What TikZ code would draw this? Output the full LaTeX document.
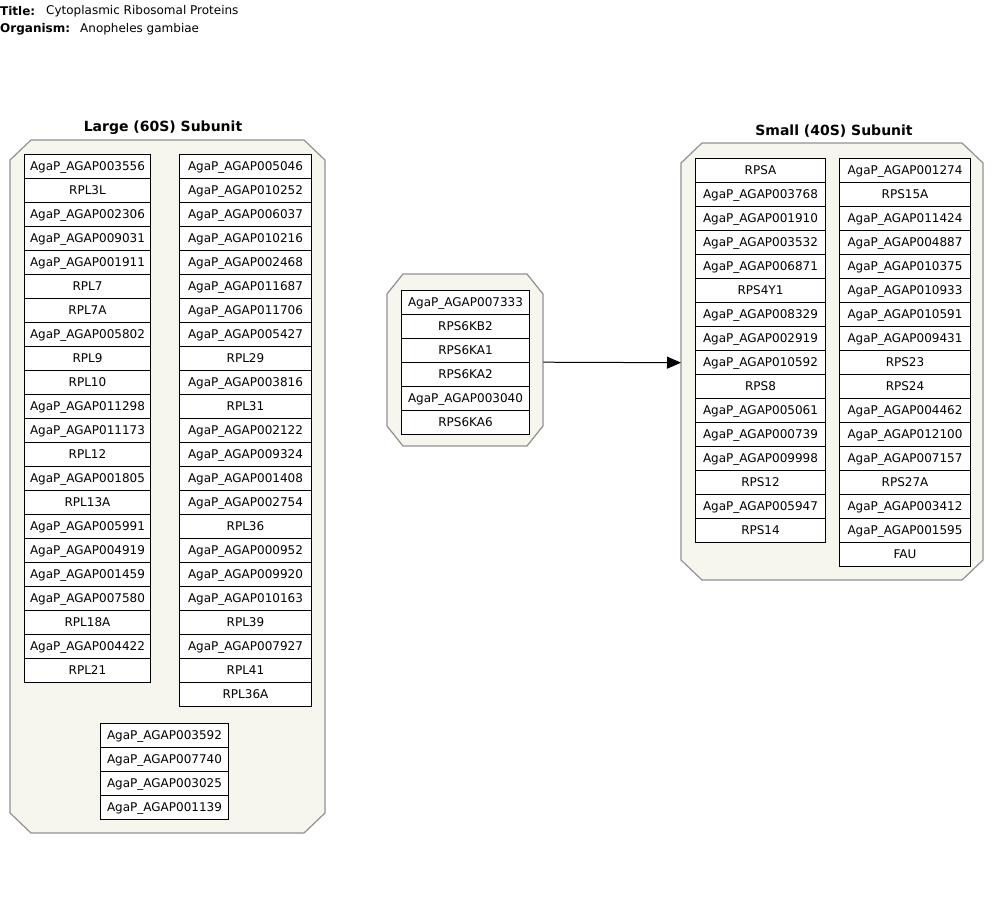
\documentclass[tikz,border=0pt]{standalone}
\usepackage{fontspec}
\setmainfont{DejaVu Sans}
\usetikzlibrary{arrows.meta}

\definecolor{groupfill}{RGB}{246,246,238}
\definecolor{groupline}{RGB}{145,145,145}

% gene product label with AgaP_AGAP prefix
\newcommand\ag[1]{AgaP\_AGAP#1}

% octagonal group outline: x1, y1, x2, y2, chamfer dx, chamfer dy
\newcommand\groupoct[6]{%
  \draw[groupbox] ({#1+#5},#2) -- ({#3-#5},#2) -- (#3,{#2+#6}) -- (#3,{#4-#6})
    -- ({#3-#5},#4) -- ({#1+#5},#4) -- (#1,{#4-#6}) -- (#1,{#2+#6}) -- cycle;}

% stacked column of gene boxes: name prefix, left x, top y, width, labels
\newcommand\genecolumn[5]{%
  \foreach \g [count=\i] in {#5} {
    \node[genebox=#4] (#1\i) at (#2,{#3+(\i-1)*24}) {\g};
  }}

\begin{document}
\begin{tikzpicture}[x=1pt,y=-1pt,
  genebox/.style={draw=black, fill=white, line width=1pt, minimum width=#1,
    minimum height=24pt, inner sep=0pt, anchor=north west,
    text height=8.8pt, text depth=0pt,
    font=\fontsize{12}{14}\selectfont},
  groupbox/.style={draw=groupline, fill=groupfill, line width=1.2pt},
  grouplabel/.style={anchor=base, inner sep=0pt, font=\fontsize{14}{16}\selectfont\bfseries},
  header/.style={anchor=west, inner sep=0pt, font=\fontsize{12}{14}\selectfont},
  anchorbox/.style={inner sep=0pt, draw=none, anchor=north west},
  link/.style={line width=1pt, -{Triangle[length=14pt,width=12pt]}}
]
\useasboundingbox (0,0) rectangle (1000,919);

% header
\node[header, font=\fontsize{12}{14}\selectfont\bfseries] (ttl) at (0,11) {Title:};
\node[header] (ttlv) at (46,11) {Cytoplasmic Ribosomal Proteins};
\node[header, font=\fontsize{12}{14}\selectfont\bfseries] (org) at (0,29) {Organism:};
\node[header] (orgv) at (80,29) {Anopheles gambiae};

% group outlines
\groupoct{10}{140}{325}{833}{21}{20}
\node[anchorbox, minimum width=315pt, minimum height=693pt] (large) at (10,140) {};
\groupoct{387}{274}{543}{446}{16}{20}
\node[anchorbox, minimum width=156pt, minimum height=172pt] (mid) at (387,274) {};
\groupoct{681}{143}{983}{580}{21}{20}
\node[anchorbox, minimum width=302pt, minimum height=437pt] (small) at (681,143) {};

% group labels
\node[grouplabel] (largelbl) at (163,131) {Large (60S) Subunit};
\node[grouplabel] (smalllbl) at (834,135) {Small (40S) Subunit};

% large subunit
\genecolumn{la}{24}{154}{126}{\ag{003556},RPL3L,\ag{002306},\ag{009031},\ag{001911},RPL7,RPL7A,\ag{005802},RPL9,RPL10,\ag{011298},\ag{011173},RPL12,\ag{001805},RPL13A,\ag{005991},\ag{004919},\ag{001459},\ag{007580},RPL18A,\ag{004422},RPL21}
\genecolumn{lb}{179}{154}{132}{\ag{005046},\ag{010252},\ag{006037},\ag{010216},\ag{002468},\ag{011687},\ag{011706},\ag{005427},RPL29,\ag{003816},RPL31,\ag{002122},\ag{009324},\ag{001408},\ag{002754},RPL36,\ag{000952},\ag{009920},\ag{010163},RPL39,\ag{007927},RPL41,RPL36A}
\genecolumn{lc}{100}{723}{128}{\ag{003592},\ag{007740},\ag{003025},\ag{001139}}

% kinase group
\genecolumn{m}{401}{290}{128}{\ag{007333},RPS6KB2,RPS6KA1,RPS6KA2,\ag{003040},RPS6KA6}

% small subunit
\genecolumn{sa}{695}{158}{130}{RPSA,\ag{003768},\ag{001910},\ag{003532},\ag{006871},RPS4Y1,\ag{008329},\ag{002919},\ag{010592},RPS8,\ag{005061},\ag{000739},\ag{009998},RPS12,\ag{005947},RPS14}
\genecolumn{sb}{839}{158}{131}{\ag{001274},RPS15A,\ag{011424},\ag{004887},\ag{010375},\ag{010933},\ag{010591},\ag{009431},RPS23,RPS24,\ag{004462},\ag{012100},\ag{007157},RPS27A,\ag{003412},\ag{001595},FAU}

% interaction
\draw[link] ([yshift=-2pt]mid.east) -- ([yshift=-1pt]small.west);
\end{tikzpicture}
\end{document}
